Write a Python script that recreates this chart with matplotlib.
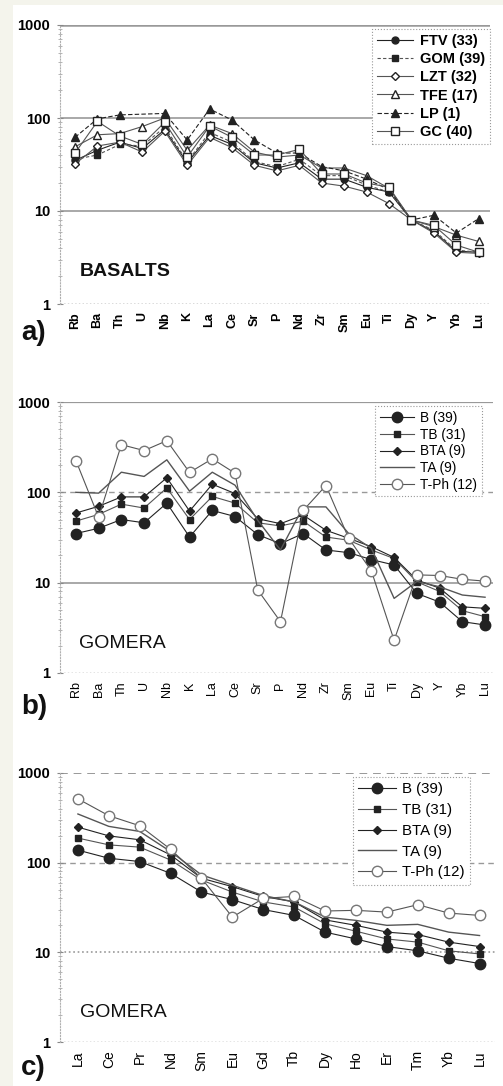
import numpy as np
import matplotlib
matplotlib.use("Agg")
import matplotlib.pyplot as plt
from matplotlib.patches import Rectangle
from matplotlib.ticker import FixedLocator, FixedFormatter, LogLocator, NullFormatter

plt.rcParams['font.family'] = ['Liberation Sans', 'DejaVu Sans']

# ---- data ----
# panel a: basalts of the islands, normalised to primitive mantle
elem_a = ['Rb', 'Ba', 'Th', 'U', 'Nb', 'K', 'La', 'Ce', 'Sr', 'P',
          'Nd', 'Zr', 'Sm', 'Eu', 'Ti', 'Dy', 'Y', 'Yb', 'Lu']
ftv = [35, 45, 55, 47, 75, 33, 65, 52, 33, 29, 33, 22, 22, 18, 16, 8.0, 6.0, 3.7, 3.6]
gom = [36, 40, 52, 50, 80, 34, 70, 55, 34, 30, 36, 24, 24, 19, 16, 8.0, 6.2, 3.8, 3.6]
lzt = [32, 50, 55, 43, 72, 31, 62, 48, 31, 27, 31, 20, 18.5, 16, 12, 8.0, 5.8, 3.6, 3.5]
tfe = [49, 66, 68, 81, 100, 45, 84, 68, 43, 38, 40, 29, 29, 24, 17.5, 8.0, 6.8, 5.5, 4.7]
lp = [62, 98, 108, np.nan, 112, 58, 125, 95, 58, 42, 42, 30, 27, 22, 17, 8.0, 9.0, 5.8, 8.3]
gc = [42, 92, 64, 52, 90, 38, 82, 62, 40, 40, 46, 25, 25, 20, 18, 8.0, 7.0, 4.3, 3.6]
names_a = ['FTV (33)', 'GOM (39)', 'LZT (32)', 'TFE (17)', 'LP (1)', 'GC (40)']

# panel b: Gomera rock types, spider diagram
b_b = [35, 40, 50, 46, 76, 32, 63, 54, 34, 27, 35, 23, 21.5, 18, 15.7, 7.6, 6.1, 3.7, 3.4]
tb_b = [48, 57, 74, 67, 112, 50, 90, 76, 46, 42.5, 48, 32, 29.5, 23, 18.5, 10.2, 8.0, 4.9, 4.2]
bta_b = [59, 70, 89, 89, 145, 62, 123, 97, 51, 45, 56, 38, 31, 25, 19, 10.7, 8.7, 5.4, 5.2]
ta_b = [100, 98, 167, 150, 229, 103, 167, 120, 49, 23, 69, 69, 35, 24, 6.7, 10.3, 9.0, 7.3, 6.9]
tph_b = [225, 53, 337, 290, 373, 166, 235, 163, 8.3, 3.7, 63, 119, 31, 13.5, 2.3, 12.2, 12, 10.9, 10.4]

# panel c: Gomera rock types, REE
elem_c = ['La', 'Ce', 'Pr', 'Nd', 'Sm', 'Eu', 'Gd', 'Tb', 'Dy', 'Ho', 'Er', 'Tm', 'Yb', 'Lu']
b_c = [138, 112, 103, 76, 47, 38.7, 30, 25.8, 16.8, 14.1, 11.6, 10.4, 8.6, 7.5]
tb_c = [188, 158, 149, 107, 64, 47, 36.5, 32, 20.8, 17.2, 14.1, 13, 10.4, 9.6]
bta_c = [249, 199, 180, 122, 67, 54, 42, 36.5, 23, 20, 16.8, 15.8, 13, 11.6]
ta_c = [349, 254, 223, 133, 73, 56, 43, 36.5, 24.7, 22.7, 20, 20.5, 16.8, 15.4]
tph_c = [515, 334, 258, 141, 67, 24.7, 40, 42, 28.9, 29.4, 28.1, 34, 27.4, 25.8]
names_g = ['B (39)', 'TB (31)', 'BTA (9)', 'TA (9)', 'T-Ph (12)']

W, H = 503, 1086
fig = plt.figure(figsize=(W / 100, H / 100), dpi=100)
fig.patch.set_facecolor('#f4f4ec')
# white paper area (scan)
fig.patches.append(Rectangle((13 / W, 0), 1 - 13 / W, 1 - 5 / H, transform=fig.transFigure,
                             facecolor='white', edgecolor='none', zorder=-10))


def make_axes(left, right, top, bottom):
    # pixel box -> figure fraction
    return fig.add_axes([left / W, 1 - bottom / H, (right - left) / W, (bottom - top) / H])


def setup(ax, labels, xlim, hstyles, bold, xfs):
    ax.set_facecolor('none')
    ax.set_yscale('log')
    ax.set_ylim(1, 1000)
    ax.set_xlim(*xlim)
    for s in ['top', 'right', 'bottom']:
        ax.spines[s].set_visible(False)
    ax.spines['left'].set_color('#b0b0b0')
    ax.spines['left'].set_linestyle(':')
    ax.spines['left'].set_linewidth(0.8)
    for val, (ls, col, lw) in zip([1, 10, 100, 1000], hstyles):
        ax.axhline(val, ls=ls, color=col, lw=lw, zorder=1)
    ax.yaxis.set_major_locator(FixedLocator([1, 10, 100, 1000]))
    ax.yaxis.set_major_formatter(FixedFormatter(['1', '10', '100', '1000']))
    ax.yaxis.set_minor_locator(LogLocator(base=10, subs=np.arange(2, 10)))
    ax.yaxis.set_minor_formatter(NullFormatter())
    ax.tick_params(axis='y', which='major', length=4, direction='inout', color='#888888',
                   labelsize=10.5, pad=5)
    ax.tick_params(axis='y', which='minor', length=3, direction='inout', color='#aaaaaa')
    for t in ax.get_yticklabels():
        t.set_fontweight('bold')
    ax.set_xticks(range(len(labels)))
    ax.set_xticklabels(labels, rotation=90, fontsize=xfs,
                       fontweight='bold' if bold else 'normal')
    ax.tick_params(axis='x', length=0, pad=6)


def draw(ax, x, ys, styles, names):
    for y, st, nm in zip(ys, styles, names):
        y = np.asarray(y, dtype=float)
        ok = np.isfinite(y)
        ax.plot(np.asarray(x)[ok], y[ok], label=nm, zorder=3, **st)


def legend(ax, loc_box, fs, weight, spacing):
    leg = ax.legend(loc='upper right', bbox_to_anchor=loc_box, frameon=True, fancybox=False,
                    handlelength=2.5, handletextpad=0.45, borderpad=0.35,
                    labelspacing=spacing, borderaxespad=0,
                    prop={'size': fs, 'weight': weight})
    fr = leg.get_frame()
    fr.set_edgecolor('#999999')
    fr.set_linestyle(':')
    fr.set_linewidth(0.8)
    fr.set_facecolor('white')
    fr.set_alpha(1)
    leg.set_zorder(10)
    return leg


k = '#222222'
g = '#555555'

# ---- panel a ----
ax1 = make_axes(60, 490, 25, 304)
setup(ax1, elem_a, (-0.67, 18.5),
      [(':', '#444444', 1.0), ('-', '#999999', 1.2), ('-', '#999999', 1.2), ('-', '#999999', 1.8)],
      True, 9)
xa = np.arange(len(elem_a))
styles_a = [
    dict(color=k, lw=0.8, marker='o', ms=5, mfc=k, mec=k),
    dict(color=g, lw=0.8, ls=(0, (3, 2)), marker='s', ms=5, mfc=k, mec=k),
    dict(color=g, lw=0.8, marker='D', ms=4.5, mfc='white', mec=k),
    dict(color=g, lw=0.8, marker='^', ms=5.5, mfc='white', mec=k),
    dict(color=k, lw=0.8, ls=(0, (4, 2)), marker='^', ms=5.5, mfc=k, mec=k),
    dict(color=g, lw=0.8, marker='s', ms=5.5, mfc='white', mec=k),
]
draw(ax1, xa, [ftv, gom, lzt, tfe, lp, gc], styles_a, names_a)
legend(ax1, (1.0, 0.985), 10.5, 'bold', 0.28)
ax1.text(0.045, 0.115, 'BASALTS', transform=ax1.transAxes, fontsize=14,
         fontweight='bold', va='center', ha='left', color='#111111')

# ---- panels b, c shared styles ----
styles_g = [
    dict(color=k, lw=0.8, marker='o', ms=7.5, mfc=k, mec=k),
    dict(color=g, lw=0.8, marker='s', ms=5, mfc=k, mec=k),
    dict(color=k, lw=0.8, marker='D', ms=4, mfc=k, mec=k),
    dict(color=g, lw=1.0),
    dict(color=g, lw=0.8, marker='o', ms=7.5, mfc='white', mec='#777777'),
]

# ---- panel b ----
ax2 = make_axes(60, 493, 402, 673)
setup(ax2, elem_a, (-0.7, 18.35),
      [(':', '#777777', 1.0), ('-', '#999999', 1.2), ((0, (4, 3)), '#999999', 1.0),
       ('-', '#999999', 1.6)], False, 9)
draw(ax2, xa, [b_b, tb_b, bta_b, ta_b, tph_b], styles_g, names_g)
legend(ax2, (0.975, 0.985), 9.8, 'normal', 0.2)
ax2.text(0.045, 0.11, 'GOMERA', transform=ax2.transAxes, fontsize=14,
         va='center', ha='left', color='#111111')

# ---- panel c ----
ax3 = make_axes(60, 495, 773, 1042)
setup(ax3, elem_c, (-0.58, 13.5),
      [(':', '#777777', 1.0), (':', '#999999', 1.2), ((0, (4, 3)), '#999999', 1.0),
       ((0, (4, 3)), '#999999', 1.4)], False, 10)
xc = np.arange(len(elem_c))
draw(ax3, xc, [b_c, tb_c, bta_c, ta_c, tph_c], styles_g, names_g)
legend(ax3, (0.943, 0.985), 10.8, 'normal', 0.45)
ax3.text(0.045, 0.11, 'GOMERA', transform=ax3.transAxes, fontsize=14,
         va='center', ha='left', color='#111111')

# panel letters
for lab, ypix in [('a)', 333), ('b)', 707), ('c)', 1068)]:
    fig.text(21 / W, 1 - ypix / H, lab, fontsize=20, fontweight='bold',
             va='center', ha='left', color='#111111')

fig.savefig('out.png', dpi=100, facecolor=fig.get_facecolor())
